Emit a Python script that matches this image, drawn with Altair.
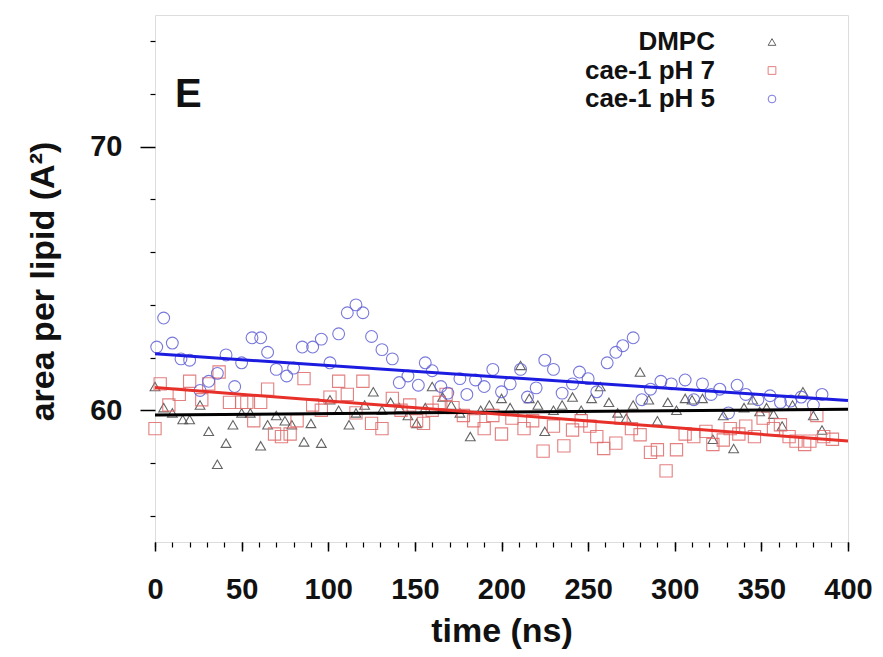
import altair as alt
import pandas as pd

# ---------------- data ----------------
series_names = ["DMPC", "cae-1 pH 7", "cae-1 pH 5"]
point_colors = ["#4a4a4a", "#e06a6a", "#6262d6"]
line_colors = ["#000000", "#e8302a", "#1c1ce0"]
shapes = ["triangle-up", "square", "circle"]
point_sizes = [95, 150, 140]

t_dmpc = [0, 5, 10, 16, 20, 26, 31, 36, 41, 45, 50, 55, 61, 65, 70, 75, 79, 86, 90, 96,
          101, 106, 112, 116, 121, 126, 131, 136, 141, 146, 151, 156, 160, 166, 171, 176,
          182, 188, 193, 200, 205, 211, 216, 221, 225, 230, 235, 241, 246, 252, 257, 262,
          267, 272, 276, 280, 285, 290, 296, 301, 306, 310, 316, 322, 328, 334, 340, 345,
          349, 353, 357, 362, 368, 374, 380, 385]
v_dmpc = [60.9, 60.1, 59.9, 59.65, 59.65, 60.2, 59.2, 57.95, 58.75, 59.45, 59.9, 59.9, 58.65,
          59.45, 59.8, 59.6, 59.45, 58.8, 59.5, 58.75, 60.4, 60.0, 59.45, 59.9, 60.2, 60.7,
          60.0, 60.3, 60.1, 59.8, 59.5, 60.1, 60.9, 60.5, 60.2, 59.9, 59.0, 60.0, 60.2, 60.45,
          60.1, 61.7, 60.45, 60.2, 59.2, 60.0, 60.2, 60.5, 60.0, 60.45, 60.9, 60.3, 59.9, 59.7,
          60.2, 61.45, 60.4, 59.6, 60.3, 60.0, 60.45, 60.4, 60.45, 58.9, 59.8, 58.55, 60.1,
          60.4, 59.95, 60.1, 59.85, 59.4, 60.2, 60.7, 59.8, 59.25]

t_ph7 = [0, 3, 8, 14, 20, 27, 31, 37, 43, 50, 53, 57, 61, 65, 69, 73, 78, 82, 86, 91, 96,
         101, 106, 111, 116, 120, 125, 131, 137, 142, 147, 151, 155, 160, 164, 168, 172, 178,
         184, 190, 195, 200, 206, 213, 218, 224, 230, 236, 241, 246, 251, 255, 259, 266, 269,
         275, 280, 286, 290, 295, 301, 306, 311, 318, 322, 328, 332, 337, 341, 346, 351, 357,
         361, 366, 370, 375, 378, 382, 386, 391]
v_ph7 = [59.3, 61.0, 60.2, 60.6, 61.1, 60.4, 61.0, 61.45, 60.3, 60.3, 60.3, 59.6, 60.3, 60.8,
         59.1, 59.0, 59.1, 59.6, 61.2, 60.2, 60.0, 60.5, 61.1, 60.6, 59.9, 61.1, 59.5, 59.3,
         60.45, 60.0, 60.2, 59.6, 59.5, 60.0, 60.3, 60.6, 60.1, 59.8, 59.6, 59.3, 59.8, 59.1,
         59.7, 59.3, 59.6, 58.45, 59.4, 58.65, 59.25, 59.6, 59.4, 59.0, 58.55, 58.75, 59.7,
         59.3, 59.07, 58.4, 58.5, 57.7, 58.5, 59.1, 59.0, 59.2, 58.7, 58.87, 59.3, 59.1, 59.4,
         59.0, 59.7, 59.3, 59.45, 59.0, 58.83, 58.7, 58.83, 59.8, 59.0, 58.9]

t_ph5 = [1, 5, 10, 15, 20, 26, 31, 36, 41, 46, 50, 56, 61, 65, 70, 76, 80, 85, 91, 96, 101,
         106, 111, 116, 120, 125, 131, 137, 141, 146, 152, 156, 160, 165, 169, 176, 180, 185,
         190, 195, 200, 205, 211, 215, 220, 225, 230, 235, 241, 245, 250, 255, 261, 266, 270,
         276, 281, 286, 292, 298, 306, 311, 316, 321, 326, 331, 336, 341, 348, 355, 361, 367,
         373, 380, 385]
v_ph5 = [62.4, 63.5, 62.55, 61.95, 61.9, 60.75, 61.1, 61.4, 62.1, 60.9, 61.8, 62.75, 62.75,
         62.2, 61.55, 61.3, 61.6, 62.4, 62.4, 62.7, 61.8, 62.9, 63.7, 64.0, 63.7, 62.8, 62.3,
         61.95, 61.05, 61.3, 60.95, 61.8, 61.5, 60.9, 60.65, 61.2, 60.6, 61.15, 60.9, 61.55,
         60.7, 61.0, 61.55, 60.5, 60.85, 61.9, 61.55, 60.65, 61.0, 61.45, 61.2, 60.7, 61.8,
         62.2, 62.45, 62.75, 60.4, 60.8, 61.1, 61.0, 61.15, 60.4, 61.0, 60.6, 60.8, 59.9,
         60.95, 60.6, 60.4, 60.55, 60.3, 60.35, 60.5, 60.2, 60.6]

# linear fits (end points)
fit_t = [0, 400]
fit_dmpc = [59.82, 60.04]
fit_ph7 = [60.86, 58.83]
fit_ph5 = [62.14, 60.37]

x_major = [0, 50, 100, 150, 200, 250, 300, 350, 400]
x_minor = list(range(0, 401, 10))
y_major = [60, 70]
y_minor = [56, 58, 62, 64, 66, 68, 72, 74]

panel_label = "E"
x_title = "time (ns)"
y_title = "area per lipid (A²)"

# ---------------- chart ----------------
FONT = "Liberation Sans"
W, H = 693, 527
xscale = alt.Scale(domain=[0, 400], nice=False, zero=False)
yscale = alt.Scale(domain=[55, 75], nice=False, zero=False)

x_axis_major = alt.Axis(values=x_major, orient="bottom", tickSize=9, tickWidth=1.5,
                        tickColor="black", labelPadding=24, labelFont=FONT,
                        labelFontSize=29, labelFontWeight="bold", labelColor="#111",
                        domain=False, grid=False, title=x_title, titleFont=FONT,
                        titleFontSize=34, titleFontWeight="bold", titleColor="#111",
                        titleY=99, titleBaseline="alphabetic", labelFlush=False,
                        labelOverlap=False, format="d")
y_axis_major = alt.Axis(values=y_major, orient="left", tickSize=15, tickWidth=1.5,
                        tickColor="black", labelPadding=18, labelFont=FONT,
                        labelFontSize=29, labelFontWeight="bold", labelColor="#111",
                        labelBaseline="middle", domain=False, grid=False, title=y_title,
                        titleFont=FONT, titleFontSize=34, titleFontWeight="bold",
                        titleColor="#111", titleX=-102, titleY=266, titleAngle=270,
                        titleBaseline="alphabetic", titleAlign="center", format="d")
x_axis_minor = alt.Axis(values=x_minor, orient="bottom", tickSize=5, tickWidth=1.2,
                        tickColor="black", labels=False, domain=False, grid=False, title=None)
y_axis_minor = alt.Axis(values=y_minor, orient="left", tickSize=5, tickWidth=1.2,
                        tickColor="black", labels=False, domain=False, grid=False, title=None)

series_t = [t_dmpc, t_ph7, t_ph5]
series_v = [v_dmpc, v_ph7, v_ph5]
fits = [fit_dmpc, fit_ph7, fit_ph5]

layers = []

# axis carrier layers
axis_df = pd.DataFrame({"t": [0, 400], "v": [55, 75]})
layers.append(
    alt.Chart(axis_df).mark_point(opacity=0).encode(
        x=alt.X("t:Q", scale=xscale, axis=x_axis_major),
        y=alt.Y("v:Q", scale=yscale, axis=y_axis_major),
    )
)
layers.append(
    alt.Chart(axis_df).mark_point(opacity=0).encode(
        x=alt.X("t:Q", scale=xscale, axis=x_axis_minor),
        y=alt.Y("v:Q", scale=yscale, axis=y_axis_minor),
    )
)

# points
for name, ts, vs, col, shp, sz in zip(series_names, series_t, series_v,
                                      point_colors, shapes, point_sizes):
    df = pd.DataFrame({"t": ts, "v": vs, "series": name})
    layers.append(
        alt.Chart(df).mark_point(filled=False, shape=shp, size=sz, strokeWidth=1.1,
                                 color=col, opacity=0.85).encode(
            x=alt.X("t:Q", scale=xscale, axis=None),
            y=alt.Y("v:Q", scale=yscale, axis=None),
        )
    )

# fit lines
for name, fv, col in zip(series_names, fits, line_colors):
    df = pd.DataFrame({"t": fit_t, "v": fv, "series": name})
    layers.append(
        alt.Chart(df).mark_line(color=col, strokeWidth=3).encode(
            x=alt.X("t:Q", scale=xscale, axis=None),
            y=alt.Y("v:Q", scale=yscale, axis=None),
        )
    )

# legend (inside, upper right)
for i, (name, col, shp) in enumerate(zip(series_names, point_colors, shapes)):
    df = pd.DataFrame({"label": [name]})
    ypos = 27 + 28.5 * i
    layers.append(
        alt.Chart(df).mark_text(align="right", baseline="middle", font=FONT, fontSize=26,
                                fontWeight="bold", color="#111").encode(
            text="label:N", x=alt.value(560), y=alt.value(ypos)
        )
    )
    layers.append(
        alt.Chart(df).mark_point(shape=shp, filled=False, size=60, strokeWidth=1,
                                 color=col, opacity=0.85).encode(
            x=alt.value(617), y=alt.value(ypos)
        )
    )

# panel label
layers.append(
    alt.Chart(pd.DataFrame({"label": [panel_label]})).mark_text(
        align="left", baseline="alphabetic", font=FONT, fontSize=40, fontWeight="bold",
        color="#111").encode(text="label:N", x=alt.value(20), y=alt.value(92))
)

chart = alt.layer(*layers).resolve_axis(x="independent", y="independent").properties(
    width=W, height=H,
    autosize=alt.AutoSizeParams(type="none"),
    padding={"left": 147, "top": 7, "right": 25, "bottom": 110},
).configure_view(stroke="#222", strokeWidth=2.5).configure(background="white")

chart.save("out.html", embed_options={"renderer": "svg", "actions": False})
